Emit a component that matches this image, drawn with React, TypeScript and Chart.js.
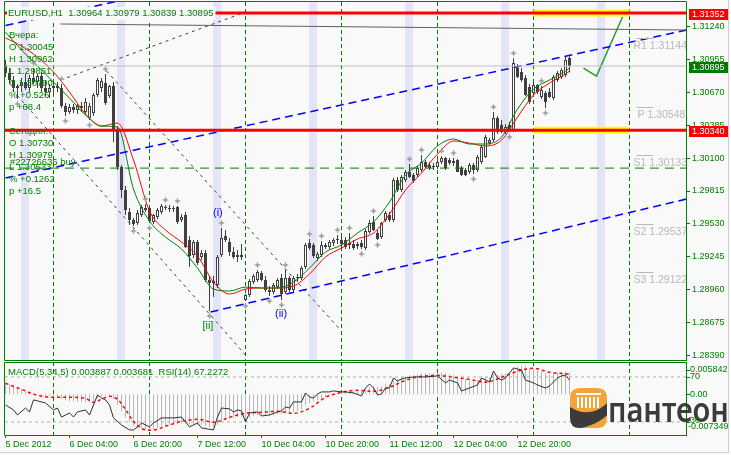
import React, { useEffect, useRef } from 'react';
import { Chart, registerables } from 'chart.js';

Chart.register(...registerables);

const W = 731;
const MAIN_H = 361;
const SUB_H = 94;
const BG = '#F9F9F9';
const GREEN = '#008000';
const BAND = '#E4E4F8';
const FONT = '"Liberation Sans", Arial, sans-serif';

// ---------------- data (prices in points, 1 point = 0.00001) ----------------
const openPts = [
  130903,130834,130774,130705,130722,130756,130705,130791,130756,130808,
  130705,130670,130705,130722,130705,130549,130497,130540,130515,130549,
  130497,130446,130489,130644,130705,130748,130636,130722,130342,130022,
  129823,129633,129564,129538,129607,129668,129668,129547,129590,129633,
  129677,129668,129659,129677,129564,129607,129391,129262,129374,129245,
  129279,129046,129020,129003,129262,129426,129374,129288,129245,129262,
  128873,128916,129029,129046,129106,129046,128959,128942,128985,129063,
  128942,129063,128959,129063,129063,129158,129365,129348,129236,129262,
  129348,129331,129365,129391,129391,129391,129348,129357,129340,129365,
  129322,129461,129547,129452,129417,129564,129607,129564,129910,129823,
  129910,129979,129953,129953,129996,130065,130039,130031,130022,130065,
  130100,130083,130057,130083,130013,129996,129979,130039,129996,130065,
  130109,130229,130255,130446,130385,130325,130385,130342,130877,130843,
  130791,130713,130661,130731,130627,130661,130670,130618,130774,130800,
  130817,130964
];
const highPts = [
  130947,130877,130808,130739,130791,130826,130817,130877,130826,130843,
  130774,130739,130756,130756,130739,130575,130566,130566,130566,130584,
  130618,130575,130661,130791,130791,130826,130731,130756,130376,130039,
  129858,129668,129581,129651,129694,129702,129685,129616,129668,129702,
  129694,129694,129685,129685,129616,129633,129426,129391,129391,129305,
  129305,129080,129080,129262,129495,129478,129409,129331,129305,129357,
  128925,129054,129098,129132,129124,129080,128994,129020,129063,129098,
  129132,129080,129080,129098,129167,129365,129400,129365,129288,129383,
  129365,129391,129409,129435,129417,129417,129452,129391,129374,129391,
  129487,129564,129599,129478,129547,129642,129633,129927,129936,129953,
  129996,130048,129970,130031,130126,130083,130065,130057,130083,130117,
  130109,130100,130100,130091,130031,130013,130057,130057,130126,130212,
  130299,130273,130497,130463,130428,130394,130411,130962,130912,130877,
  130817,130739,130756,130739,130722,130679,130705,130817,130852,130877,
  130979,130979
];
const lowPts = [
  130800,130739,130670,130610,130670,130687,130670,130739,130705,130670,
  130636,130618,130644,130670,130532,130463,130480,130489,130480,130497,
  130480,130428,130463,130627,130670,130558,130618,130238,129996,129754,
  129607,129521,129512,129521,129590,129633,129538,129530,129573,129616,
  129651,129633,129633,129530,129547,129322,129158,129236,129176,129219,
  129029,128778,128899,128977,129245,129374,129253,129227,129201,129219,
  128864,128899,129011,129029,129037,128942,128908,128925,128968,128873,
  128925,128942,128942,129029,129046,129141,129305,129236,129210,129245,
  129314,129314,129340,129357,129322,129314,129314,129305,129314,129314,
  129305,129443,129469,129391,129400,129547,129547,129547,129806,129806,
  129893,129927,129884,129936,129979,130013,129996,129996,130005,130048,
  129996,130039,130031,129979,129944,129944,129962,129962,129979,130048,
  130100,130212,130238,130307,130316,130307,130325,130325,130791,130756,
  130636,130566,130644,130653,130610,130533,130618,130601,130756,130782,
  130800,130839
];
const closePts = [
  130834,130774,130705,130722,130756,130705,130791,130756,130808,130705,
  130670,130705,130722,130705,130549,130497,130540,130515,130549,130532,
  130584,130549,130644,130774,130765,130575,130722,130342,130022,129823,
  129651,129564,129530,129625,129677,129651,129556,129607,129651,129685,
  129668,129659,129668,129547,129590,129331,129253,129374,129193,129279,
  129046,129020,129037,129245,129409,129391,129288,129245,129262,129245,
  128916,129037,129080,129115,129046,128959,128942,129003,129046,128925,
  129063,128959,129063,129072,129150,129348,129322,129253,129271,129348,
  129331,129374,129391,129400,129357,129331,129365,129322,129357,129331,
  129469,129538,129478,129400,129538,129625,129564,129910,129823,129936,
  129979,129936,129901,130013,130065,130022,130013,130022,130065,130100,
  130013,130057,130074,129979,129953,129953,130039,129996,130109,130195,
  130281,130255,130446,130325,130325,130368,130342,130921,130800,130774,
  130644,130584,130731,130670,130687,130584,130627,130800,130834,130860,
  130947,130895
];

// moving averages, read every 4 bars
const maBars = [0,4,8,12,16,20,24,28,32,36,40,44,48,52,56,60,64,68,72,76,80,84,88,92,96,100,104,108,112,116,120,124,128,132,136,140,141];
const maFastPts = [131188,131033,130895,130756,130618,130471,130376,130368,129832,129556,129417,129314,129149,128968,128951,128985,128977,128977,129028,129149,129288,129348,129452,129547,129720,129953,130057,130204,130264,130221,130221,130281,130523,130696,130774,130852,130877];
const maSlowPts = [131137,131068,130972,130843,130670,130480,130376,130402,130083,129642,129478,129374,129253,129028,128925,128968,128977,128977,128994,129098,129245,129322,129400,129452,129616,129823,129970,130134,130247,130229,130204,130255,130454,130644,130748,130826,130852];

// MACD(5,34,5) main, one per bar
const macdMain = [
  0.00199,0.00181,0.00145,0.00108,0.00090,0.00054,0.00036,0.00018,0.00000,-0.00018,
  -0.00036,-0.00036,-0.00054,-0.00054,-0.00090,-0.00108,-0.00126,-0.00126,-0.00145,-0.00145,
  -0.00145,-0.00145,-0.00126,-0.00072,-0.00036,-0.00018,-0.00018,-0.00090,-0.00199,-0.00307,
  -0.00416,-0.00506,-0.00578,-0.00614,-0.00632,-0.00632,-0.00651,-0.00632,-0.00614,-0.00596,
  -0.00578,-0.00560,-0.00542,-0.00542,-0.00524,-0.00524,-0.00542,-0.00542,-0.00560,-0.00560,
  -0.00578,-0.00596,-0.00596,-0.00560,-0.00506,-0.00470,-0.00452,-0.00434,-0.00416,-0.00416,
  -0.00452,-0.00434,-0.00398,-0.00379,-0.00379,-0.00379,-0.00379,-0.00379,-0.00361,-0.00361,
  -0.00343,-0.00343,-0.00325,-0.00307,-0.00271,-0.00199,-0.00163,-0.00126,-0.00108,-0.00072,
  -0.00054,-0.00018,0.00000,0.00018,0.00036,0.00036,0.00054,0.00054,0.00054,0.00054,
  0.00090,0.00126,0.00145,0.00126,0.00145,0.00181,0.00181,0.00253,0.00271,0.00307,
  0.00325,0.00343,0.00343,0.00361,0.00379,0.00379,0.00379,0.00379,0.00379,0.00398,
  0.00379,0.00361,0.00343,0.00325,0.00289,0.00271,0.00253,0.00235,0.00253,0.00271,
  0.00307,0.00307,0.00361,0.00361,0.00361,0.00361,0.00361,0.00470,0.00506,0.00524,
  0.00506,0.00470,0.00452,0.00434,0.00416,0.00379,0.00361,0.00379,0.00398,0.00398,
  0.00416,0.003887
];
const signalBars = [0,4,8,12,16,20,22,24,26,28,30,32,34,36,38,40,44,48,52,56,60,64,68,72,76,80,84,88,92,96,100,104,108,112,116,120,124,128,132,136,141];
const signalVals = [0.00199,0.00090,-0.00018,-0.00054,-0.00054,-0.00072,-0.00145,-0.00090,-0.00036,-0.00090,-0.00271,-0.00488,-0.00614,-0.00651,-0.00632,-0.00578,-0.00488,-0.00452,-0.00506,-0.00416,-0.00343,-0.00325,-0.00307,-0.00343,-0.00253,-0.00054,0.00036,0.00072,0.00054,0.00126,0.00253,0.00325,0.00343,0.00307,0.00271,0.00217,0.00307,0.00416,0.00470,0.00398,0.003681];
const rsiBars = [0,2,3,5,6,7,10,12,13,14,16,17,18,20,21,23,24,25,26,27,29,31,32,33,34,36,37,39,42,44,45,46,48,49,52,53,54,56,57,58,59,60,61,63,64,66,68,69,70,71,72,74,75,76,77,78,79,81,82,84,85,87,89,90,91,92,93,94,95,96,97,98,99,100,102,105,108,110,111,113,114,116,118,119,121,122,123,124,125,127,128,129,130,132,133,135,136,138,139,140,141];
const rsiVals = [45.1,40.7,36.2,42.4,38.9,49.6,46.9,40.7,42.4,34.4,38.0,34.4,38.9,40.7,36.2,54.0,51.3,49.6,45.1,33.6,27.3,22.9,22.9,25.6,29.1,25.6,29.1,33.6,33.6,34.4,30.0,25.6,29.1,24.7,22.9,34.4,42.4,41.6,38.9,40.7,39.8,30.0,38.0,38.9,35.3,36.2,38.9,39.8,43.3,42.4,47.8,47.8,55.8,52.2,51.3,54.9,56.7,56.7,57.6,56.7,56.7,55.8,53.1,60.2,63.8,60.2,54.0,54.9,60.2,60.5,69.1,66.4,68.2,69.1,70.0,70.0,70.9,64.7,67.3,64.7,57.6,60.2,62.9,69.1,65.6,75.3,69.1,67.3,69.1,78.0,77.1,76.2,67.3,64.7,62.9,60.2,62.0,69.1,70.9,71.8,67.2272];

const fractalUp = [7,14,25,35,40,43,54,63,70,76,79,83,86,92,101,104,109,112,122,127,134];
const fractalDown = [3,15,21,32,36,51,60,66,69,89,93,117,126,135];

const dateTickBars = [0,16,32,48,64,80,96,112,128];
const dateTickLabels = ['5 Dec 2012','6 Dec 04:00','6 Dec 20:00','7 Dec 12:00','10 Dec 04:00','10 Dec 20:00','11 Dec 12:00','12 Dec 04:00','12 Dec 20:00'];
const priceTicks = [1.28390,1.28675,1.28960,1.29245,1.29530,1.29815,1.30100,1.30385,1.30670,1.30955,1.31240];
const separatorBars = [12,36,60,84,108,132,156];
const bandBars = [4,28,52,76,100,124,148];

const redLevels = [1.31352, 1.30340];
const zoneBars = [132, 156];
const bidPrice = 1.30895;
const buyPrice = 1.30013;
const channelUpper = [[0, 1.29927], [170.25, 1.31206]];
const channelLower = [[51.25, 1.28769], [170.25, 1.29746]];
const channelTop = [[0, 1.31245], [40, 1.31545]];
const grayLine = [[13.75, 1.31258], [170.25, 1.31206]];
const dotRise = [[13.75, 1.30774], [60, 1.31361]];
const dotFallA = [[25.25, 1.30852], [83.75, 1.28614]];
const dotFallB = [[1.75, 1.30687], [60, 1.28398]];
const projection = [[144.5, 1.30877], [147.75, 1.30808], [154.25, 1.31318]];

const pivotNames = ['R1', 'P', 'S1', 'S2', 'S3'];
const pivotValues = [1.31144, 1.30548, 1.30133, 1.29537, 1.29122];
const pivotLabelBars = [157, 158, 157, 157, 157];

const waveLabels = [
  { text: '(i)', bar: 53.1, price: 1.29625, color: '#0000FF' },
  { text: '(ii)', bar: 68.9, price: 1.28752, color: '#0000FF' },
  { text: '[ii]', bar: 50.6, price: 1.28648, color: GREEN },
];

const headerText = 'EURUSD,H1  1.30964 1.30979 1.30839 1.30895';
const infoLines = ['Вчера:', 'O 1.30045', 'H 1.30962', 'L 1.29851', 'C 1.30790', '% +0.526', 'p +68.4', '', 'Сегодня:', 'O 1.30730', 'H 1.30979', 'L 1.30533', '% +0.1262', 'p +16.5'];
const orderLabel = '#22726636 buy';
const subHeader = 'MACD(5,34,5) 0.003887 0.003681  RSI(14) 67.2272';

const X_MIN = -0.125;
const X_MAX = 170.125;
const PRICE_MIN = 1.28355;
const PRICE_MAX = 1.31448;
const MACD_MIN = -0.007349;
const MACD_MAX = 0.005842;
const RSI_MIN = 18.4;
const RSI_MAX = 83.3;

const toP = (v: number) => v / 1e5;

function lineDs(points: number[][], color: string, width: number, dash: number[], order: number, extra: any = {}) {
  return {
    type: 'line',
    data: points.map(([x, y]) => ({ x, y })),
    borderColor: color,
    borderWidth: width,
    borderDash: dash,
    pointRadius: 0,
    fill: false,
    tension: 0,
    order,
    ...extra,
  };
}

function star(ctx: CanvasRenderingContext2D, cx: number, cy: number) {
  ctx.beginPath();
  ctx.moveTo(cx, cy - 3.5);
  ctx.lineTo(cx + 1, cy - 1);
  ctx.lineTo(cx + 3.5, cy);
  ctx.lineTo(cx + 1, cy + 1);
  ctx.lineTo(cx, cy + 3.5);
  ctx.lineTo(cx - 1, cy + 1);
  ctx.lineTo(cx - 3.5, cy);
  ctx.lineTo(cx - 1, cy - 1);
  ctx.closePath();
  ctx.fill();
}

function roundRectPath(ctx: CanvasRenderingContext2D, x: number, y: number, w: number, h: number, r: number) {
  ctx.beginPath();
  ctx.moveTo(x + r, y);
  ctx.lineTo(x + w - r, y);
  ctx.quadraticCurveTo(x + w, y, x + w, y + r);
  ctx.lineTo(x + w, y + h - r);
  ctx.quadraticCurveTo(x + w, y + h, x + w - r, y + h);
  ctx.lineTo(x + r, y + h);
  ctx.quadraticCurveTo(x, y + h, x, y + h - r);
  ctx.lineTo(x, y + r);
  ctx.quadraticCurveTo(x, y, x + r, y);
  ctx.closePath();
}

function drawLogo(ctx: CanvasRenderingContext2D, ox: number, oy: number) {
  ctx.save();
  roundRectPath(ctx, ox, oy, 37, 40, 10);
  ctx.fillStyle = '#F2A33A';
  ctx.fill();
  ctx.save();
  ctx.clip();
  ctx.fillStyle = '#3B3B3B';
  ctx.beginPath();
  ctx.moveTo(ox, oy + 19);
  ctx.bezierCurveTo(ox + 12, oy + 27, ox + 26, oy + 26, ox + 37, oy + 15);
  ctx.lineTo(ox + 37, oy + 27);
  ctx.bezierCurveTo(ox + 28, oy + 36, ox + 14, oy + 41, ox, oy + 41);
  ctx.closePath();
  ctx.fill();
  ctx.restore();
  ctx.fillStyle = '#FFFFFF';
  ctx.fillRect(ox + 6, oy + 5, 25, 2);
  for (let k = 0; k < 6; k++) ctx.fillRect(ox + 7 + k * 4, oy + 9, 2, 11);
  ctx.font = '600 34px "Noto Sans", sans-serif';
  ctx.fillStyle = '#3B3B3B';
  ctx.textBaseline = 'alphabetic';
  const t = 'пантеон';
  const w = ctx.measureText(t).width;
  ctx.translate(ox + 38, oy + 34);
  ctx.scale(121 / w, 1);
  ctx.fillText(t, 0, 0);
  ctx.restore();
}

const mainDeco = {
  id: 'mainDeco',
  beforeDraw(chart: any) {
    const { ctx, width, height } = chart;
    ctx.save();
    ctx.fillStyle = BG;
    ctx.fillRect(0, 0, width, height);
    ctx.restore();
  },
  beforeDatasetsDraw(chart: any) {
    const { ctx, chartArea: a } = chart;
    const xs = chart.scales.x;
    ctx.save();
    ctx.beginPath();
    ctx.rect(a.left, a.top, a.right - a.left, a.bottom - a.top);
    ctx.clip();
    ctx.fillStyle = BAND;
    bandBars.forEach((b) => {
      const x0 = xs.getPixelForValue(b) - 0.5;
      const x1 = xs.getPixelForValue(b + 2) - 0.5;
      ctx.fillRect(x0, a.top, x1 - x0, a.bottom - a.top);
    });
    ctx.strokeStyle = GREEN;
    ctx.lineWidth = 1;
    ctx.setLineDash([4, 3]);
    separatorBars.forEach((b) => {
      const x = Math.floor(xs.getPixelForValue(b)) + 0.5;
      ctx.beginPath();
      ctx.moveTo(x, a.top);
      ctx.lineTo(x, a.bottom);
      ctx.stroke();
    });
    ctx.restore();
  },
  afterDraw(chart: any) {
    const { ctx, chartArea: a } = chart;
    const xs = chart.scales.x;
    const ys = chart.scales.y;
    ctx.save();
    ctx.beginPath();
    ctx.rect(a.left, a.top, a.right - a.left, a.bottom - a.top);
    ctx.clip();
    // fractals
    ctx.fillStyle = '#A0A0A0';
    fractalUp.forEach((i) => star(ctx, xs.getPixelForValue(i), ys.getPixelForValue(toP(highPts[i])) - 5));
    fractalDown.forEach((i) => star(ctx, xs.getPixelForValue(i), ys.getPixelForValue(toP(lowPts[i])) + 5));
    // pivot labels
    ctx.font = `10.5px ${FONT}`;
    ctx.textBaseline = 'middle';
    ctx.textAlign = 'left';
    ctx.fillStyle = '#B8B8B8';
    ctx.strokeStyle = '#B8B8B8';
    ctx.lineWidth = 1;
    pivotNames.forEach((nm, k) => {
      const py = ys.getPixelForValue(pivotValues[k]);
      const ly = Math.round(py) + 1.5;
      ctx.beginPath();
      ctx.moveTo(xs.getPixelForValue(157.75), ly);
      ctx.lineTo(xs.getPixelForValue(162), ly);
      ctx.stroke();
      ctx.fillText(`${nm} ${pivotValues[k].toFixed(5)}`, xs.getPixelForValue(pivotLabelBars[k]), py + 8.5);
    });
    // wave labels
    ctx.font = `11px ${FONT}`;
    ctx.textAlign = 'center';
    waveLabels.forEach((w) => {
      ctx.fillStyle = w.color;
      ctx.fillText(w.text, xs.getPixelForValue(w.bar), ys.getPixelForValue(w.price));
    });
    // info text
    ctx.textAlign = 'left';
    ctx.font = `9.5px ${FONT}`;
    ctx.fillStyle = GREEN;
    infoLines.forEach((t, k) => {
      if (t) ctx.fillText(t, 9, 35 + k * 12);
    });
    ctx.fillText(orderLabel, 10, ys.getPixelForValue(buyPrice) - 6);
    // header with background
    const hw = ctx.measureText(headerText).width;
    ctx.fillStyle = BG;
    ctx.fillRect(7, 7, hw + 3, 13);
    ctx.fillStyle = GREEN;
    ctx.fillText(headerText, 8, 13.5);
    ctx.restore();

    // price boxes on the right axis
    ctx.save();
    ctx.font = `9px ${FONT}`;
    ctx.textBaseline = 'middle';
    const boxes = [
      { v: redLevels[0], c: '#FF0000' },
      { v: bidPrice, c: '#007A00' },
      { v: redLevels[1], c: '#FF0000' },
    ];
    boxes.forEach((b) => {
      const py = Math.round(ys.getPixelForValue(b.v)) + 1;
      ctx.fillStyle = b.c;
      ctx.fillRect(689, py - 5, 40, 11);
      ctx.fillStyle = '#FFFFFF';
      ctx.fillText(b.v.toFixed(5), 692, py + 0.5);
    });
    // frame
    ctx.strokeStyle = GREEN;
    ctx.lineWidth = 1;
    ctx.beginPath();
    ctx.moveTo(686.5, 1.5);
    ctx.lineTo(4.5, 1.5);
    ctx.lineTo(4.5, 360.5);
    ctx.lineTo(686.5, 360.5);
    ctx.stroke();
    ctx.strokeStyle = '#D0D0D0';
    ctx.beginPath();
    ctx.moveTo(728.5, 0);
    ctx.lineTo(728.5, MAIN_H);
    ctx.stroke();
    ctx.restore();
  },
};

const subDeco = {
  id: 'subDeco',
  beforeDraw(chart: any) {
    const { ctx, width, height } = chart;
    ctx.save();
    ctx.fillStyle = BG;
    ctx.fillRect(0, 0, width, height);
    ctx.restore();
  },
  beforeDatasetsDraw(chart: any) {
    const { ctx, chartArea: a } = chart;
    const xs = chart.scales.x;
    ctx.save();
    ctx.strokeStyle = GREEN;
    ctx.lineWidth = 1;
    ctx.setLineDash([4, 3]);
    separatorBars.forEach((b) => {
      const x = Math.floor(xs.getPixelForValue(b)) + 0.5;
      ctx.beginPath();
      ctx.moveTo(x, a.top);
      ctx.lineTo(x, a.bottom);
      ctx.stroke();
    });
    ctx.restore();
  },
  afterDraw(chart: any) {
    const { ctx } = chart;
    const ym = chart.scales.yM;
    const yr = chart.scales.yR;
    ctx.save();
    drawLogo(ctx, 570, 27);
    ctx.font = `9.5px ${FONT}`;
    ctx.fillStyle = GREEN;
    ctx.textBaseline = 'middle';
    ctx.fillText(subHeader, 8, 11);
    ctx.font = `9px ${FONT}`;
    const labels = [
      { t: MACD_MAX.toFixed(6), y: ym.getPixelForValue(MACD_MAX) + 8, x: 690 },
      { t: '70', y: yr.getPixelForValue(70), x: 690 },
      { t: '0.00', y: ym.getPixelForValue(0), x: 690 },
      { t: '30', y: yr.getPixelForValue(30) - 1, x: 690 },
      { t: MACD_MIN.toFixed(6), y: ym.getPixelForValue(MACD_MIN) - 8, x: 688 },
    ];
    labels.forEach((l) => ctx.fillText(l.t, l.x, l.y));
    ctx.strokeStyle = GREEN;
    ctx.lineWidth = 1;
    [ym.getPixelForValue(MACD_MAX) + 8, yr.getPixelForValue(70), ym.getPixelForValue(0), yr.getPixelForValue(30)].forEach((py) => {
      const y = Math.round(py) + 0.5;
      ctx.beginPath();
      ctx.moveTo(686, y);
      ctx.lineTo(690, y);
      ctx.stroke();
    });
    ctx.beginPath();
    ctx.moveTo(686.5, 1.5);
    ctx.lineTo(4.5, 1.5);
    ctx.lineTo(4.5, 74.5);
    ctx.stroke();
    ctx.strokeStyle = '#D0D0D0';
    ctx.beginPath();
    ctx.moveTo(728.5, 0);
    ctx.lineTo(728.5, 91);
    ctx.moveTo(0, 91.5);
    ctx.lineTo(729, 91.5);
    ctx.stroke();
    ctx.restore();
  },
};

function mainConfig(): any {
  const idx = closePts.map((_, i) => i);
  const wick = idx.map((i) => ({ x: i, y: [toP(lowPts[i]), toP(highPts[i])] }));
  const body = idx.map((i) => ({ x: i, y: [toP(openPts[i]), toP(closePts[i])] }));
  const bodyFill = idx.map((i) => (closePts[i] >= openPts[i] ? '#FFFFFF' : '#404040'));
  const full = (p: number) => [[X_MIN, p], [X_MAX, p]];
  const datasets: any[] = [
    lineDs(full(redLevels[0]), '#FF0000', 3, [], 0),
    lineDs(full(redLevels[1]), '#FF0000', 3, [], 0),
    lineDs([[zoneBars[0], redLevels[0]], [zoneBars[1], redLevels[0]]], '#FFFF00', 7, [], 1),
    lineDs([[zoneBars[0], redLevels[1]], [zoneBars[1], redLevels[1]]], '#FFFF00', 7, [], 1),
    lineDs(full(bidPrice), '#C0C0C0', 1, [], 1),
    lineDs(full(buyPrice), GREEN, 1, [9, 6], 1),
    lineDs(grayLine, '#606060', 1, [], 1),
    lineDs(channelUpper, '#0000FF', 1.5, [8, 5], 1),
    lineDs(channelLower, '#0000FF', 1.5, [8, 5], 1),
    lineDs(channelTop, '#0000FF', 1.5, [8, 5], 1),
    lineDs(dotRise, '#404040', 1, [3, 4], 1),
    lineDs(dotFallA, '#404040', 1, [3, 4], 1),
    lineDs(dotFallB, '#404040', 1, [3, 4], 1),
    lineDs(projection, '#2E9B2E', 1.5, [], 1),
    lineDs(maBars.map((b, k) => [b, toP(maFastPts[k])]), GREEN, 1, [], 2, { cubicInterpolationMode: 'monotone' }),
    lineDs(maBars.map((b, k) => [b, toP(maSlowPts[k])]), '#FF0000', 1, [], 2, { cubicInterpolationMode: 'monotone' }),
    {
      type: 'bar', data: body, backgroundColor: bodyFill, borderColor: '#404040', borderWidth: 1,
      borderSkipped: false, barThickness: 3, grouped: false, inflateAmount: 0, order: 3,
    },
    {
      type: 'bar', data: wick, backgroundColor: '#404040', borderWidth: 0,
      barThickness: 1, grouped: false, inflateAmount: 0, order: 4,
    },
  ];
  return {
    type: 'bar',
    data: { datasets },
    options: {
      animation: false,
      responsive: false,
      events: [],
      layout: { padding: { left: 5, top: 2, right: 0, bottom: 1 }, autoPadding: false },
      plugins: { legend: { display: false }, tooltip: { enabled: false } },
      scales: {
        x: { type: 'linear', min: X_MIN, max: X_MAX, display: false, offset: false },
        y: {
          type: 'linear', position: 'right', min: PRICE_MIN, max: PRICE_MAX,
          afterFit: (s: any) => { s.width = 45; s.paddingTop = 0; s.paddingBottom = 0; },
          afterBuildTicks: (s: any) => { s.ticks = priceTicks.map((v) => ({ value: v })); },
          ticks: {
            color: GREEN, font: { family: FONT, size: 9 }, padding: 2, autoSkip: false,
            callback: (v: any) => Number(v).toFixed(5),
          },
          grid: { drawOnChartArea: false, drawTicks: true, tickLength: 4, tickColor: GREEN, color: GREEN },
          border: { display: true, color: GREEN, width: 1 },
        },
      },
    },
    plugins: [mainDeco],
  };
}

function subConfig(): any {
  const hist = macdMain.map((v, i) => ({ x: i, y: v }));
  const datasets: any[] = [
    {
      type: 'line', yAxisID: 'yR', data: rsiBars.map((b, k) => ({ x: b, y: rsiVals[k] })),
      borderColor: '#303030', borderWidth: 1, pointRadius: 0, fill: false, tension: 0, order: 0,
    },
    {
      type: 'line', yAxisID: 'yM', data: signalBars.map((b, k) => ({ x: b, y: signalVals[k] })),
      borderColor: '#FF0000', borderWidth: 1.5, borderDash: [3, 3], pointRadius: 0, fill: false,
      cubicInterpolationMode: 'monotone', order: 1,
    },
    {
      type: 'line', yAxisID: 'yR', data: [{ x: X_MIN, y: 70 }, { x: X_MAX, y: 70 }],
      borderColor: '#B0B0B0', borderWidth: 1, borderDash: [3, 3], pointRadius: 0, order: 2,
    },
    {
      type: 'line', yAxisID: 'yR', data: [{ x: X_MIN, y: 30 }, { x: X_MAX, y: 30 }],
      borderColor: '#B0B0B0', borderWidth: 1, borderDash: [3, 3], pointRadius: 0, order: 2,
    },
    {
      type: 'bar', yAxisID: 'yM', data: hist, backgroundColor: '#B8B8B8', borderWidth: 0,
      barThickness: 1, grouped: false, inflateAmount: 0, order: 3,
    },
  ];
  return {
    type: 'bar',
    data: { datasets },
    options: {
      animation: false,
      responsive: false,
      events: [],
      layout: { padding: { left: 5, top: 1, right: 0, bottom: 0 }, autoPadding: false },
      plugins: { legend: { display: false }, tooltip: { enabled: false } },
      scales: {
        x: {
          type: 'linear', min: X_MIN, max: X_MAX, offset: false, position: 'bottom',
          afterFit: (s: any) => { s.height = 20; s.paddingLeft = 0; s.paddingRight = 0; },
          afterBuildTicks: (s: any) => { s.ticks = dateTickBars.map((v) => ({ value: v })); },
          ticks: {
            color: GREEN, font: { family: FONT, size: 9 }, padding: 1, align: 'start',
            maxRotation: 0, minRotation: 0, autoSkip: false,
            callback: (_v: any, i: number) => dateTickLabels[i],
          },
          grid: { drawOnChartArea: false, drawTicks: true, tickLength: 3, tickColor: GREEN, offset: false },
          border: { display: true, color: GREEN, width: 1 },
        },
        yM: {
          type: 'linear', position: 'right', min: MACD_MIN, max: MACD_MAX,
          afterFit: (s: any) => { s.width = 45; s.paddingTop = 0; s.paddingBottom = 0; },
          ticks: { display: false },
          grid: { display: false },
          border: { display: true, color: GREEN, width: 1 },
        },
        yR: { type: 'linear', position: 'right', display: false, min: RSI_MIN, max: RSI_MAX },
      },
    },
    plugins: [subDeco],
  };
}

export default function App() {
  const mainRef = useRef<HTMLCanvasElement>(null);
  const subRef = useRef<HTMLCanvasElement>(null);
  useEffect(() => {
    document.body.style.margin = '0';
    document.body.style.background = BG;
    const c1 = new Chart(mainRef.current as HTMLCanvasElement, mainConfig());
    const c2 = new Chart(subRef.current as HTMLCanvasElement, subConfig());
    return () => {
      c1.destroy();
      c2.destroy();
    };
  }, []);
  return (
    <div style={{ position: 'relative', width: W, height: 455, background: BG, overflow: 'hidden' }}>
      <canvas ref={mainRef} width={W} height={MAIN_H} style={{ position: 'absolute', left: 0, top: 0, width: W, height: MAIN_H }} />
      <canvas ref={subRef} width={W} height={SUB_H} style={{ position: 'absolute', left: 0, top: MAIN_H, width: W, height: SUB_H }} />
    </div>
  );
}
